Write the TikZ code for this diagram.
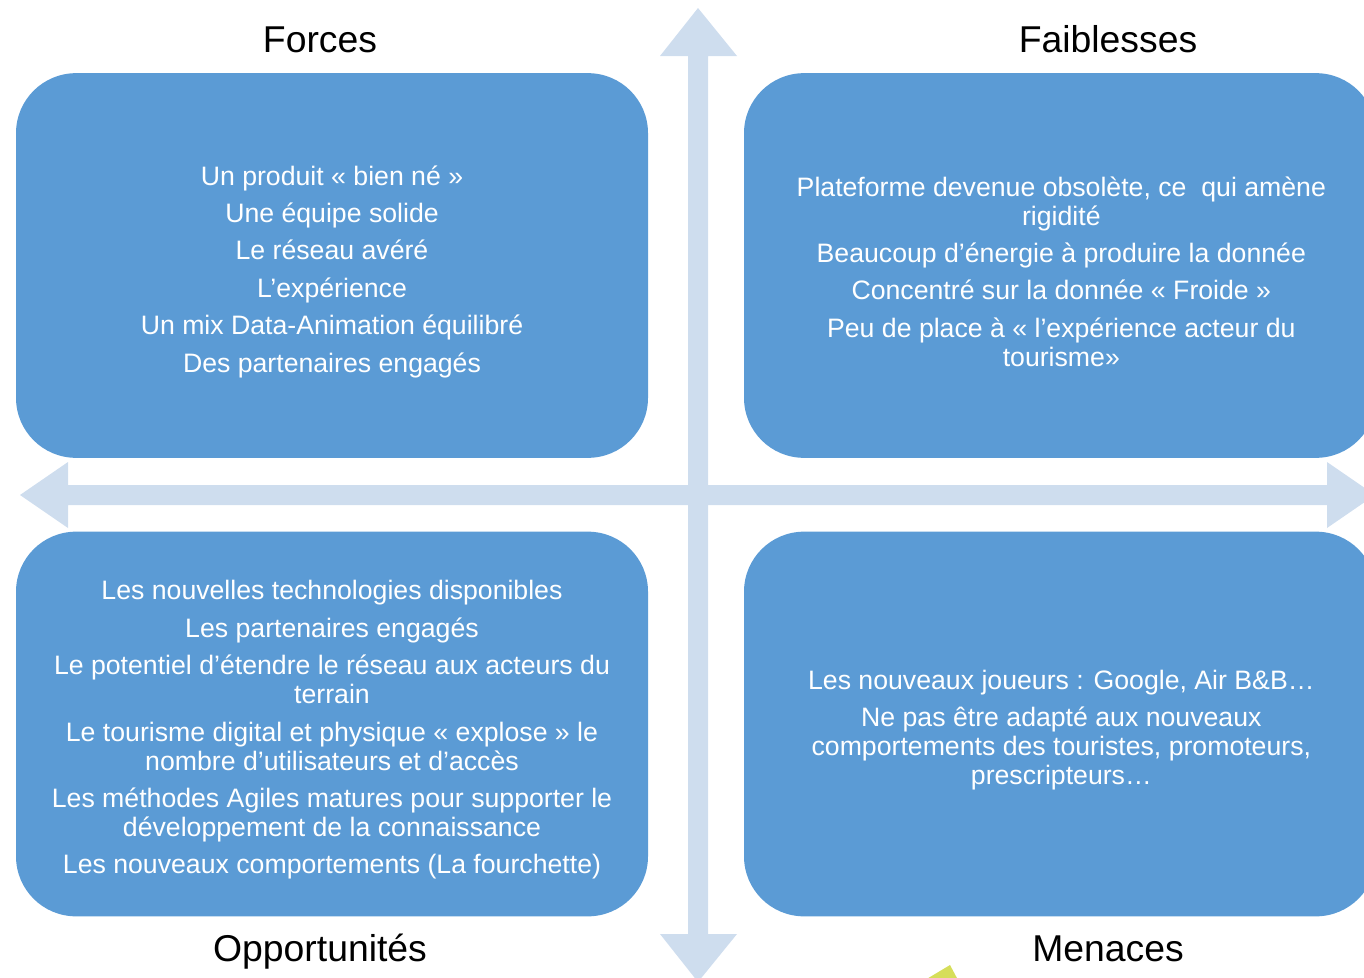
\documentclass[tikz,border=0pt]{standalone}
\usepackage{fontspec}
\setmainfont{Liberation Sans}
\usepackage{tikz}

\definecolor{swotblue}{RGB}{91,155,213}
\definecolor{axisblue}{RGB}{206,221,238}
\definecolor{leafy}{RGB}{214,222,90}

\begin{document}
\begin{tikzpicture}[x=0.75pt,y=0.75pt,yscale=-1,xscale=1,
  quadbox/.style={fill=swotblue, rounded corners=45pt, minimum width=474pt,
    minimum height=288.5pt, inner sep=0pt},
  quadtext/.style={inner sep=0pt, align=center, text=white, yshift=-4.5pt,
    font=\fontsize{20pt}{21.75pt}\selectfont},
  heading/.style={inner sep=0.75pt, anchor=base, font=\fontsize{28pt}{30pt}\selectfont}]
\useasboundingbox (0,0) rectangle (1364,978);
\clip (0,0) rectangle (1364,978);

%Shape: Double Arrow, vertical axis
\fill[axisblue] (688,56) -- (660,56) -- (698,8) -- (737,56) -- (708,56)
  -- (708,934) -- (737,934) -- (698,982) -- (660,934) -- (688,934) -- cycle ;
%Shape: Double Arrow, horizontal axis
\fill[axisblue] (68,485) -- (68,462) -- (20,495) -- (68,528) -- (68,505)
  -- (1327,505) -- (1327,528) -- (1375,495) -- (1327,462) -- (1327,485) -- cycle ;

%Rounded Rect: the four quadrants
\node[quadbox] (forcesbox) at (332,265.5) {};
\node[quadbox] (faiblbox) at (1060,265.5) {};
\node[quadbox] (opportbox) at (332,724) {};
\node[quadbox] (menacebox) at (1060,724) {};

% Forces
\node[quadtext] (forcestext) at (forcesbox) {Un produit « bien né »\\[6.3pt]
  Une équipe solide\\[6.3pt]
  Le réseau avéré\\[6.3pt]
  L’expérience\\[6.3pt]
  Un mix Data-Animation équilibré\\[6.3pt]
  Des partenaires engagés};
% Faiblesses
\node[quadtext] (faibltext) at ([xshift=1pt]faiblbox) {Plateforme devenue obsolète, ce\ \ qui amène\\
  rigidité\\[6.3pt]
  Beaucoup d’énergie à produire la donnée\\[6.3pt]
  Concentré sur la donnée « Froide »\\[6.3pt]
  Peu de place à « l’expérience acteur du\\
  tourisme»};
% Opportunites
\node[quadtext] (opporttext) at (opportbox) {Les nouvelles technologies disponibles\\[6.3pt]
  Les partenaires engagés\\[6.3pt]
  Le potentiel d’étendre le réseau aux acteurs du\\
  terrain\\[6.3pt]
  Le tourisme digital et physique « explose » le\\
  nombre d’utilisateurs et d’accès\\[6.3pt]
  Les méthodes Agiles matures pour supporter le\\
  développement de la connaissance\\[6.3pt]
  Les nouveaux comportements (La fourchette)};
% Menaces
\node[quadtext] (menacetext) at ([xshift=1pt]menacebox) {Les nouveaux joueurs : Google, Air B\&B…\\[6.3pt]
  Ne pas être adapté aux nouveaux\\
  comportements des touristes, promoteurs,\\
  prescripteurs…};

% Text Node
\node[heading] (forces) at (320,52) {Forces};
% Text Node
\node[heading] (faibl) at (1108,52) {Faiblesses};
% Text Node
\node[heading] (opport) at (320,961) {Opportunités};
% Text Node
\node[heading] (menace) at (1108,961) {Menaces};

%Shape: clipped leaf under the bottom axis
\fill[leafy] (925,980) -- (950,965) -- (958,980) -- cycle ;

\end{tikzpicture}
\end{document}
